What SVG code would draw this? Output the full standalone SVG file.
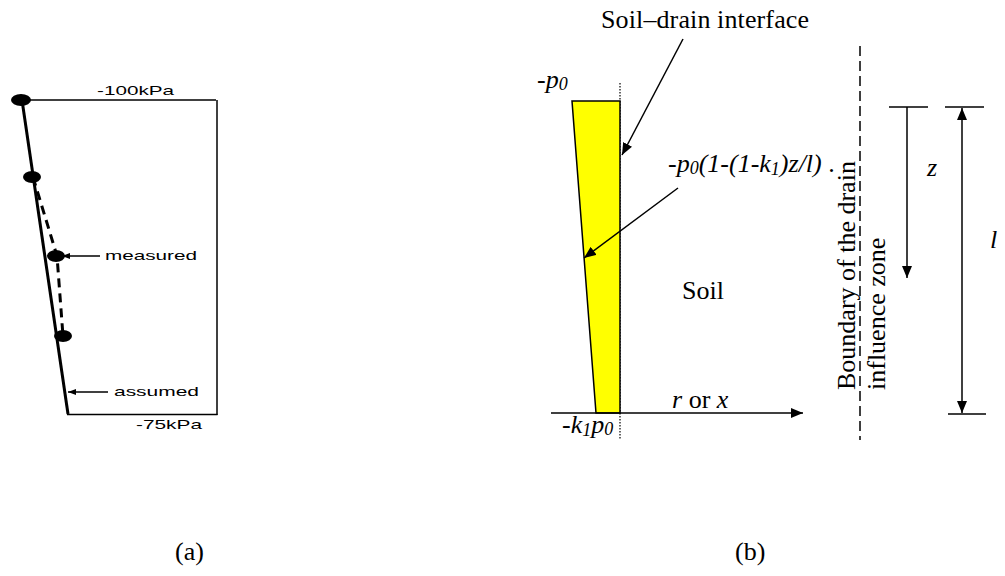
<svg xmlns="http://www.w3.org/2000/svg" width="1005" height="576" viewBox="0 0 1005 576">
<style>
.sans{font-family:"Liberation Sans",Arial,sans-serif;font-size:13px;fill:#000}
.serif{font-family:"Liberation Serif","Times New Roman",serif;font-size:26px;fill:#000}
.it{font-style:italic}
.thin{stroke:#000;stroke-width:1.5;fill:none}
.thick{stroke:#000;stroke-width:3;fill:none}
.dot{fill:#000}
</style>
<defs>
<marker id="ah" markerUnits="userSpaceOnUse" markerWidth="12" markerHeight="10" refX="12" refY="5" orient="auto-start-reverse">
<path d="M0,0 L12,5 L0,10 z" fill="#000"/>
</marker>
<marker id="ahs" markerUnits="userSpaceOnUse" markerWidth="8" markerHeight="6" refX="8" refY="3" orient="auto">
<path d="M0,0 L8,3 L0,6 z" fill="#000"/>
</marker>
</defs>
<rect width="1005" height="576" fill="#fff"/>

<g id="panel-a">
<g id="frame">
<line class="thin" x1="22" y1="100" x2="216" y2="100"/>
<line class="thin" x1="217" y1="100" x2="217" y2="415"/>
<line class="thin" x1="67" y1="414.5" x2="217.5" y2="414.5"/>
</g>
<g id="assumed-line">
<line class="thick" x1="22" y1="100" x2="68" y2="414"/>
</g>
<g id="measured-line">
<polyline class="thick" points="33,177 57,256 63,336" stroke-dasharray="9,6"/>
</g>
<g id="points">
<ellipse class="dot" cx="21" cy="100" rx="10" ry="6"/>
<ellipse class="dot" cx="32" cy="177" rx="9" ry="6"/>
<ellipse class="dot" cx="56" cy="256" rx="9" ry="6"/>
<ellipse class="dot" cx="63" cy="336" rx="9" ry="6"/>
</g>
<g id="labels-a">
<text class="sans" x="97" y="95" textLength="77" lengthAdjust="spacingAndGlyphs">-100kPa</text>
<text class="sans" x="105" y="260" textLength="92" lengthAdjust="spacingAndGlyphs">measured</text>
<text class="sans" x="114" y="396" textLength="85" lengthAdjust="spacingAndGlyphs">assumed</text>
<text class="sans" x="136" y="429" textLength="66" lengthAdjust="spacingAndGlyphs">-75kPa</text>
</g>
</g>

<g id="panel-b">
<g id="drain-interface">
<line x1="620" y1="83" x2="620" y2="440" stroke="#000" stroke-width="1.2" stroke-dasharray="1.5,1.5"/>
</g>
<g id="pressure">
<polygon points="572,101 620,101 620,413 596,413" fill="#ffff00" stroke="#000" stroke-width="1.5"/>
</g>
<g id="boundary">
<line x1="860" y1="46" x2="860" y2="440" stroke="#000" stroke-width="1.5" stroke-dasharray="10,5"/>
</g>
<g id="z-dim">
<line class="thin" x1="889" y1="107" x2="928" y2="107"/>
</g>
<g id="l-dim">
<line class="thin" x1="945" y1="107" x2="984" y2="107"/>
<line class="thin" x1="948" y1="414" x2="986" y2="414"/>
</g>
<g id="labels-b">
<text class="serif" x="601" y="28" textLength="208">Soil–drain interface</text>
<text class="serif it" x="537" y="88">-p<tspan font-size="18" dy="2">0</tspan></text>
<text class="serif it" x="668" y="172">-p<tspan font-size="18" dy="2">0</tspan><tspan dy="-2">(1-(1-k</tspan><tspan font-size="18" dy="3">1</tspan><tspan dy="-3">)z/l)</tspan><tspan font-style="normal"> .</tspan></text>
<text class="serif" x="682" y="299">Soil</text>
<text class="serif" x="672" y="408"><tspan class="it">r</tspan> or <tspan class="it">x</tspan></text>
<text class="serif it" x="562" y="433">-k<tspan font-size="18" dy="3">1</tspan><tspan dy="-3">p</tspan><tspan font-size="18" dy="2">0</tspan></text>
<text class="serif" transform="translate(855,390) rotate(-90)">Boundary of the drain</text>
<text class="serif" transform="translate(885,390) rotate(-90)">influence zone</text>
<text class="serif it" x="927" y="176">z</text>
<text class="serif it" x="990" y="248">l</text>
</g>
</g>

<g id="connectors">
<line class="thin" x1="100" y1="256" x2="62" y2="256" marker-end="url(#ahs)"/>
<line class="thin" x1="108" y1="392" x2="68" y2="392" marker-end="url(#ahs)"/>
<line class="thin" x1="683" y1="39" x2="622" y2="155" marker-end="url(#ah)"/>
<line class="thin" x1="678" y1="188" x2="584" y2="258" marker-end="url(#ah)"/>
<line class="thin" x1="551" y1="413" x2="803" y2="413" marker-end="url(#ah)"/>
<line class="thin" x1="907" y1="107" x2="907" y2="278" marker-end="url(#ah)"/>
<line class="thin" x1="962" y1="108" x2="962" y2="413" marker-start="url(#ah)" marker-end="url(#ah)"/>
</g>

<g id="captions">
<text class="serif" x="175" y="560">(a)</text>
<text class="serif" x="735" y="560">(b)</text>
</g>
</svg>
